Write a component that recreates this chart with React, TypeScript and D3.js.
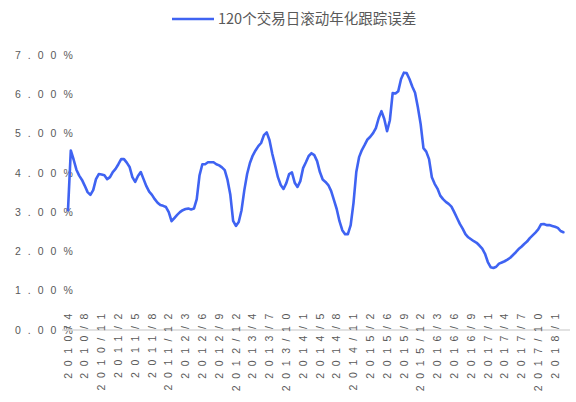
import React from "react";
import * as d3 from "d3";

const legendLabel = "120个交易日滚动年化跟踪误差";

const tickLabels = [
  "2010/4", "2010/8", "2010/11", "2011/2", "2011/5", "2011/8", "2011/12",
  "2012/3", "2012/6", "2012/9", "2012/12", "2013/4", "2013/7", "2013/10",
  "2014/1", "2014/5", "2014/8", "2014/11", "2015/2", "2015/6", "2015/9",
  "2015/12", "2016/3", "2016/6", "2016/9", "2017/1", "2017/4", "2017/7",
  "2017/10", "2018/1",
];

// samples between two consecutive tick labels
const samplesPerTick = 6;

const yTicks = [0, 1, 2, 3, 4, 5, 6, 7];

// tracking error (%), one sample every ~11 trading days
const trackingError = [
  3.05, 4.57, 4.34, 4.08, 3.93, 3.82, 3.67, 3.51, 3.44, 3.56,
  3.84, 3.97, 3.96, 3.94, 3.84, 3.89, 4.02, 4.10, 4.22, 4.35,
  4.35, 4.26, 4.15, 3.89, 3.77, 3.92, 4.02, 3.84, 3.66, 3.52,
  3.44, 3.33, 3.24, 3.18, 3.16, 3.13, 3.00, 2.77, 2.85, 2.93,
  3.00, 3.05, 3.08, 3.09, 3.07, 3.09, 3.33, 3.94, 4.22, 4.22,
  4.27, 4.27, 4.27, 4.22, 4.19, 4.14, 4.07, 3.82, 3.44, 2.78,
  2.65, 2.75, 3.05, 3.56, 3.97, 4.25, 4.44, 4.57, 4.68, 4.76,
  4.96, 5.03, 4.83, 4.48, 4.19, 3.89, 3.69, 3.59, 3.74, 3.97,
  4.01, 3.75, 3.64, 3.79, 4.12, 4.27, 4.43, 4.50, 4.45, 4.30,
  4.02, 3.83, 3.77, 3.69, 3.54, 3.31, 3.08, 2.77, 2.54, 2.44,
  2.44, 2.67, 3.23, 4.02, 4.40, 4.58, 4.71, 4.85, 4.92, 5.01,
  5.14, 5.39, 5.57, 5.37, 5.06, 5.34, 6.03, 6.02, 6.08, 6.39,
  6.55, 6.54, 6.39, 6.20, 6.04, 5.67, 5.24, 4.63, 4.54, 4.35,
  3.89, 3.72, 3.60, 3.42, 3.33, 3.26, 3.21, 3.14, 3.00, 2.85,
  2.70, 2.58, 2.44, 2.36, 2.31, 2.26, 2.22, 2.15, 2.07, 1.94,
  1.73, 1.60, 1.58, 1.61, 1.69, 1.72, 1.75, 1.79, 1.84, 1.91,
  1.98, 2.06, 2.12, 2.19, 2.25, 2.34, 2.41, 2.48, 2.56, 2.69,
  2.70, 2.67, 2.67, 2.65, 2.63, 2.60, 2.52, 2.49,
];

const W = 576;
const H = 402;
const lineColor = "#3f63f2";
const textColor = "#595959";
const labelFont = "'Liberation Sans', Arial, sans-serif";

export default function App() {
  const x = d3
    .scaleLinear()
    .domain([0, (tickLabels.length - 1) * samplesPerTick])
    .range([68, 555]);
  const y = d3.scaleLinear().domain([0, 7]).range([330, 55]);

  const line = d3
    .line<number>()
    .x((_, i) => x(i))
    .y((d) => y(d));

  return (
    <svg
      width={W}
      height={H}
      style={{ position: "absolute", left: 0, top: 0, background: "#fff" }}
    >
      {/* legend */}
      <line x1={172} x2={214} y1={19} y2={19} stroke={lineColor} strokeWidth={2.6} />
      <text
        x={218}
        y={19}
        dy="0.35em"
        fontSize={14.5}
        fill={textColor}
        fontFamily="'Noto Sans CJK SC', sans-serif"
      >
        {legendLabel}
      </text>

      {/* y tick labels */}
      {yTicks.map((t) => (
        <text
          key={t}
          x={15}
          y={y(t)}
          dy="0.35em"
          fontSize={10.5}
          letterSpacing={7}
          fill={textColor}
          fontFamily={labelFont}
        >
          {t.toFixed(2) + "%"}
        </text>
      ))}

      {/* x axis line */}
      <line x1={62} x2={570} y1={y(0)} y2={y(0)} stroke="#d9d9d9" strokeWidth={1.5} />

      {/* x tick labels */}
      {tickLabels.map((lab, i) => {
        const px = x(i * samplesPerTick);
        const py = 307;
        return (
          <text
            key={lab}
            transform={`translate(${px},${py}) rotate(-90)`}
            textAnchor="end"
            dy="0.35em"
            fontSize={10.5}
            letterSpacing={6.6}
            fill={textColor}
            fontFamily={labelFont}
          >
            {lab}
          </text>
        );
      })}

      {/* series */}
      <path
        d={line(trackingError) || ""}
        fill="none"
        stroke={lineColor}
        strokeWidth={2.6}
        strokeLinejoin="round"
        strokeLinecap="round"
      />
    </svg>
  );
}
